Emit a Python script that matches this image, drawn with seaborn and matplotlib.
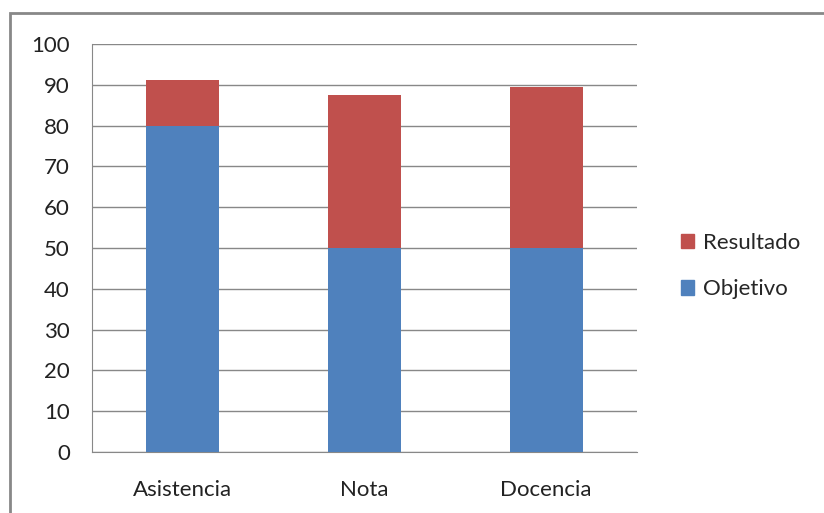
import matplotlib
matplotlib.use("Agg")
import matplotlib.pyplot as plt
import seaborn as sns
import pandas as pd
from matplotlib.patches import Rectangle, Patch

# data
categorias = ['Asistencia', 'Nota', 'Docencia']
objetivo = [80, 50, 50]
resultado = [11.1, 37.6, 39.4]

azul = '#4F81BD'
rojo = '#C0504D'

sns.set_style('white')
plt.rcParams['font.family'] = ['Lato', 'DejaVu Sans']

df = pd.DataFrame({'categoria': categorias, 'objetivo': objetivo, 'resultado': resultado})
df['total'] = df['objetivo'] + df['resultado']

fig = plt.figure(figsize=(8.24, 5.13), dpi=100)
ax = fig.add_axes([92 / 824, 1 - 452 / 513, (637 - 92) / 824, (452 - 44) / 513])

# total (rojo) detras, objetivo (azul) encima
sns.barplot(x='categoria', y='total', data=df, color=rojo, width=0.4, saturation=1,
            linewidth=0, ax=ax, zorder=2)
sns.barplot(x='categoria', y='objetivo', data=df, color=azul, width=0.4, saturation=1,
            linewidth=0, ax=ax, zorder=3)

ax.set_ylim(0, 100)
ax.set_xlim(-0.5, 2.5)
ax.set_yticks(range(0, 101, 10))
ax.yaxis.grid(True, color='#888888', linewidth=1)
ax.set_axisbelow(True)
ax.set_xlabel('')
ax.set_ylabel('')

for s in ['top', 'right']:
    ax.spines[s].set_visible(False)
ax.spines['left'].set_color('#888888')
ax.spines['bottom'].set_color('#888888')

ax.set_xticks([0, 1, 2])
ax.set_xticklabels(categorias)
ax.set_xticks([-0.5, 0.5, 1.5, 2.5], minor=True)
ax.tick_params(axis='x', which='major', length=0, labelsize=16, pad=20, colors='#222222')
ax.tick_params(axis='x', which='minor', length=9, color='#888888', direction='out')
ax.tick_params(axis='y', length=9, color='#888888', labelsize=16, pad=7, labelcolor='#222222')
for lab in ax.get_xticklabels() + ax.get_yticklabels():
    lab.set_color('#222222')

handles = [Patch(color=rojo, label='Resultado'), Patch(color=azul, label='Objetivo')]
fig.legend(handles=handles, loc='center left', bbox_to_anchor=(681 / 824, 1 - 266 / 513),
           frameon=False, fontsize=16, handlelength=0.6, handleheight=0.6,
           handletextpad=0.4, labelspacing=1.2, borderaxespad=0, borderpad=0)

# borde del grafico
fig.patches.append(Rectangle((10 / 824, -0.01), 1, 1 - 13 / 513 + 0.01, transform=fig.transFigure,
                             fill=False, edgecolor='#888888', linewidth=2))

fig.savefig('out.png', dpi=100)
